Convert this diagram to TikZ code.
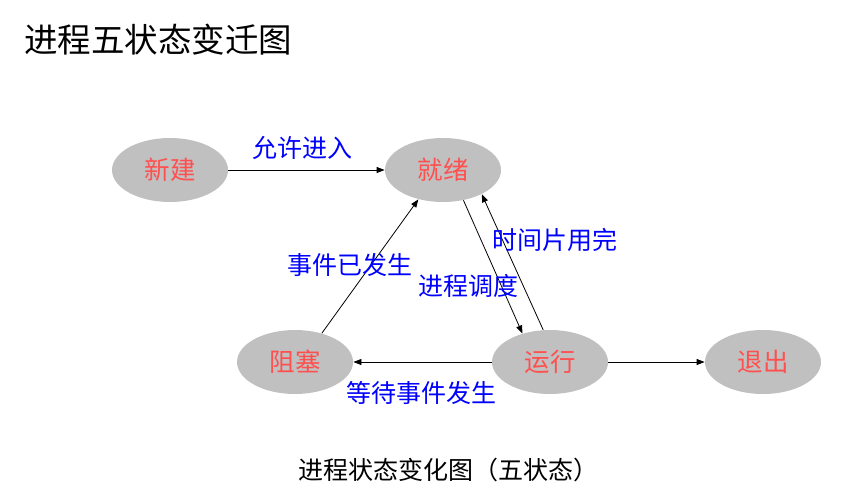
\documentclass[tikz,border=0pt]{standalone}
\usepackage{fontspec}
\newfontfamily\cjk{Noto Sans CJK SC}
\usepackage{xcolor}
\usetikzlibrary{arrows.meta,shapes.geometric}
\definecolor{stategray}{RGB}{192,192,192}
\definecolor{statered}{RGB}{255,80,80}

\begin{document}
\begin{tikzpicture}[x=1pt, y=-1pt, state/.style={ellipse, fill=stategray, minimum width=116pt, minimum height=64pt, inner sep=0pt, text=statered, font=\cjk\fontsize{25.5}{28}\selectfont}, lbl/.style={text=blue, font=\cjk\fontsize{25}{28}\selectfont, inner sep=0pt}, >={Triangle[length=8pt,width=6pt]}, line width=0.8pt]
\useasboundingbox (0,0) rectangle (864,496);
\node[inner sep=0pt, font=\cjk\fontsize{33.5}{36}\selectfont] (title) at (158,40) {进程五状态变迁图};
\node[state] (xinjian) at (170,170) {新建};
\node[state] (jiuxu) at (443,170) {就绪};
\node[state] (zuse) at (295,362) {阻塞};
\node[state] (yunxing) at (550,362) {运行};
\node[state] (tuichu) at (763,362) {退出};
\draw[->] (xinjian) -- (jiuxu); \draw[->] (zuse.47) -- (jiuxu.-130);
\draw[->] (jiuxu.-56) -- (yunxing.134); \draw[->] (yunxing.102) -- (jiuxu.-32);
\draw[->] (yunxing) -- (zuse); \draw[->] (yunxing) -- (tuichu);
\node[lbl] (l1) at (302,148) {允许进入};
\node[lbl] (l2) at (350,265) {事件已发生};
\node[lbl] (l3) at (468,286) {进程调度};
\node[lbl] (l4) at (555,240) {时间片用完};
\node[lbl] (l5) at (421,393) {等待事件发生};
\node[inner sep=0pt, font=\cjk\fontsize{25}{30}\selectfont] (caption) at (448,470) {进程状态变化图（五状态）};
\end{tikzpicture}
\end{document}
